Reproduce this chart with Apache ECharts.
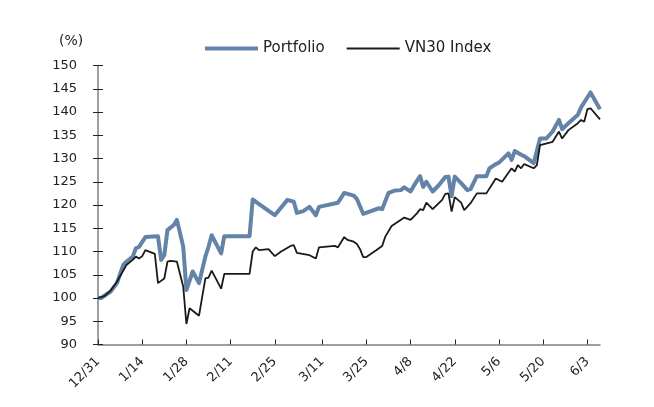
<!DOCTYPE html>
<html>
<head>
<meta charset="utf-8">
<script src="https://cdn.jsdelivr.net/npm/echarts@6/dist/echarts.min.js"></script>
<style>html,body{margin:0;padding:0;background:#fff;}#c{width:654px;height:407px;}</style>
</head>
<body>
<div id="c"></div>
<script>
var tickLabels = ['12/31','1/14','1/28','2/11','2/25','3/11','3/25','4/8','4/22','5/6','5/20','6/3'];
var yTicks = [90,95,100,105,110,115,120,125,130,135,140,145,150];

var portfolioDates = ['12/31','1/1','1/4','1/6','1/8','1/9','1/11','1/12','1/13','1/15','1/19','1/20','1/21','1/22','1/24','1/25','1/27','1/28','1/30','2/1','2/3','2/4','2/5','2/8','2/9','2/17','2/18','2/20','2/25','2/29','3/2','3/3','3/5','3/7','3/9','3/10','3/16','3/18','3/21','3/22','3/24','3/26','3/29','3/30','4/1','4/3','4/5','4/6','4/8','4/9','4/11','4/12','4/13','4/15','4/17','4/19','4/20','4/21','4/22','4/24','4/26','4/27','4/29','5/2','5/3','5/5','5/6','5/9','5/10','5/11','5/13','5/14','5/17','5/19','5/21','5/23','5/25','5/26','5/28','5/31','6/1','6/4','6/7'];
var portfolioValues = [100,100,101.4,103.2,107.1,107.8,108.9,110.7,111.0,113.1,113.3,108.2,109.2,114.6,115.7,116.8,111.0,101.7,105.7,103.2,108.9,111.0,113.5,109.6,113.3,113.3,121.2,120.2,117.8,121.1,120.7,118.3,118.7,119.6,117.8,119.6,120.5,122.6,122.0,121.3,118.1,118.6,119.3,119.1,122.6,123.1,123.2,123.8,122.9,124.1,126.2,123.9,125.0,122.9,124.3,126.0,126.1,121.9,126.1,124.7,123.2,123.4,126.2,126.2,127.9,128.8,129.1,131.1,129.7,131.6,130.8,130.5,129.0,134.3,134.3,135.8,138.3,136.3,137.6,139.4,141.0,144.2,140.6];

var indexDates = ['12/31','1/2','1/4','1/6','1/9','1/11','1/12','1/13','1/14','1/15','1/18','1/19','1/21','1/22','1/23','1/25','1/27','1/28','1/29','2/1','2/3','2/4','2/5','2/8','2/9','2/17','2/18','2/19','2/20','2/23','2/25','2/27','3/1','3/2','3/3','3/7','3/9','3/10','3/15','3/16','3/18','3/19','3/21','3/22','3/23','3/24','3/25','3/28','3/30','3/31','4/2','4/4','4/6','4/8','4/10','4/11','4/12','4/13','4/15','4/18','4/19','4/20','4/21','4/22','4/24','4/25','4/27','4/29','5/2','5/5','5/7','5/10','5/11','5/12','5/13','5/14','5/17','5/18','5/19','5/23','5/25','5/26','5/28','5/31','6/1','6/2','6/3','6/4','6/7'];
var indexValues = [100,100.4,101.6,103.5,107.1,108.2,108.9,108.5,109.0,110.3,109.5,103.2,104.2,107.8,108.0,107.8,102.4,94.4,97.8,96.2,104.2,104.4,105.9,102.0,105.2,105.2,110.0,110.9,110.3,110.5,109.0,110.0,111.2,111.4,109.7,109.2,108.5,110.9,111.2,110.9,113.1,112.5,112.1,111.6,110.5,108.8,108.8,110.2,111.2,113.2,115.5,116.4,117.3,116.8,118.2,119.1,118.9,120.5,119.1,121.1,122.4,122.5,118.6,121.7,120.5,118.9,120.4,122.5,122.5,125.7,125.0,127.9,127.2,128.6,127.9,128.8,127.9,128.6,132.9,133.6,135.8,134.3,136.1,137.6,138.3,137.9,140.6,140.8,138.4];

var BASE = Date.UTC(2023, 11, 31);
function dayOf(s) {
  var p = s.split('/'); var m = +p[0], d = +p[1];
  var y = m === 12 ? 2023 : 2024;
  return Math.round((Date.UTC(y, m - 1, d) - BASE) / 86400000);
}
function pairs(dates, vals) { return dates.map(function (d, i) { return [dayOf(d), vals[i]]; }); }

var tickDays = tickLabels.map(dayOf);
var labelMap = {}; tickDays.forEach(function (d, i) { labelMap[d] = tickLabels[i]; });

var FONT = 'DejaVu Sans';
var BLUE = '#6383a9', BLACK = '#1a1a1a';
var chart = echarts.init(document.getElementById('c'), null, { renderer: 'canvas' });
chart.setOption({
  animation: false,
  backgroundColor: '#ffffff',
  textStyle: { fontFamily: FONT },
  grid: { left: 98, right: 54, top: 65.5, bottom: 62.5, containLabel: false },
  legend: {
    left: 200, top: 36,
    itemWidth: 53, itemHeight: 14, itemGap: 22,
    symbolKeepAspect: true,
    textStyle: { fontFamily: FONT, fontSize: 15, color: '#222', padding: [0, 0, 0, 0] },
    data: [
      { name: 'Portfolio', icon: 'path://M0,0 L53,0 L53,4 L0,4 Z', itemStyle: { color: BLUE } },
      { name: 'VN30 Index', icon: 'path://M0,0 L53,0 L53,1.8 L0,1.8 Z', itemStyle: { color: BLACK } }
    ]
  },
  graphic: [{
    type: 'text', left: 59, top: 34,
    style: { text: '(%)', fontFamily: FONT, fontSize: 14, fill: '#222' }
  }],
  xAxis: {
    type: 'value', min: 0, max: 159, interval: 14,
    splitLine: { show: false },
    axisLine: { lineStyle: { color: '#808080', width: 1.5 } },
    axisTick: { show: true, inside: true, length: 5, customValues: tickDays, lineStyle: { color: '#222', width: 1 } },
    axisLabel: {
      customValues: tickDays,
      rotate: 45, margin: 15, fontFamily: FONT, fontSize: 13, color: '#222',
      formatter: function (v) { return labelMap[Math.round(v)] || ''; }
    }
  },
  yAxis: [{
    type: 'value', min: 90, max: 150, interval: 5,
    splitLine: { show: false },
    axisLine: { show: true, lineStyle: { color: '#808080', width: 1.5 } },
    axisTick: { show: true, length: 5, lineStyle: { color: '#222', width: 1 } },
    axisLabel: { margin: 21, fontFamily: FONT, fontSize: 13, color: '#222',
      formatter: function (v) { return yTicks.indexOf(v) >= 0 ? String(v) : ''; } }
  }, {
    type: 'value', min: 90, max: 150, interval: 5, position: 'left',
    splitLine: { show: false },
    axisLine: { show: false },
    axisTick: { show: true, inside: true, length: 5, lineStyle: { color: '#222', width: 1 } },
    axisLabel: { show: false }
  }],
  series: [{
    name: 'Portfolio', type: 'line', yAxisIndex: 0,
    data: pairs(portfolioDates, portfolioValues),
    symbol: 'none', showSymbol: false,
    lineStyle: { color: BLUE, width: 4, join: 'round' },
    itemStyle: { color: BLUE }
  }, {
    name: 'VN30 Index', type: 'line', yAxisIndex: 0,
    data: pairs(indexDates, indexValues),
    symbol: 'none', showSymbol: false,
    lineStyle: { color: BLACK, width: 1.8 },
    itemStyle: { color: BLACK }
  }]
});
</script>
</body>
</html>
